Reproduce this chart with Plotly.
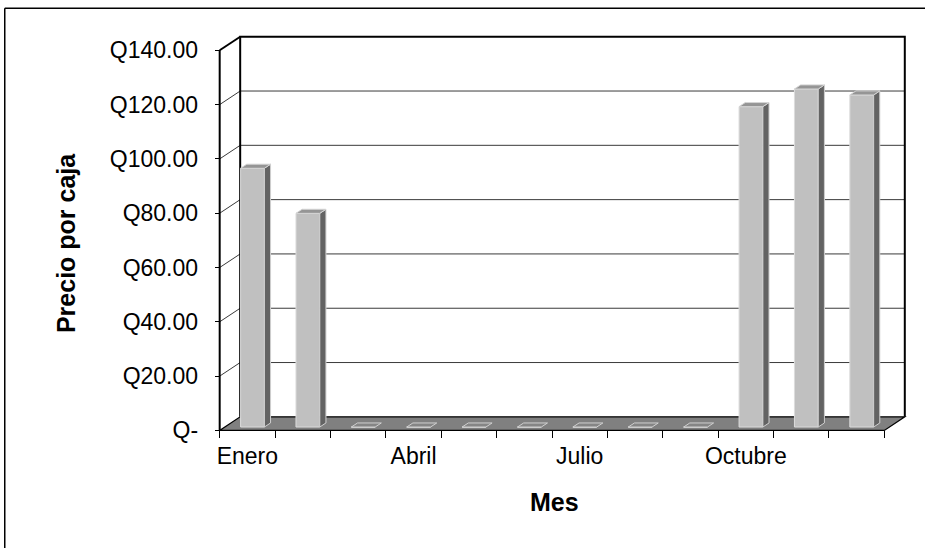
import plotly.graph_objects as go

# Precio promedio por caja, por mes
meses = ["Enero", "Febrero", "Marzo", "Abril", "Mayo", "Junio", "Julio",
         "Agosto", "Septiembre", "Octubre", "Noviembre", "Diciembre"]
precio = [95.3, 78.7, 0, 0, 0, 0, 0, 0, 0, 118.0, 124.5, 122.3]
y_ticks = [0, 20, 40, 60, 80, 100, 120, 140]
y_labels = ["Q-", "Q20.00", "Q40.00", "Q60.00", "Q80.00", "Q100.00", "Q120.00", "Q140.00"]

W, H = 925, 548
FONT = "Liberation Sans, Arial, sans-serif"

# oblique depth of the 3-D box, in data units
DX, DY = 0.37, 5.0
BAR_W = 0.43            # bar width in category units
BAR_D0, BAR_D = 0.25, 0.30   # bar front position and thickness (fraction of depth)

n = len(meses)
vmax = y_ticks[-1]
x_range = [-0.5, n + 0.5]
y_range = [-5, vmax + 6]

# pixel geometry of the plotting area
PX_X, PX_Y = 55.4, 2.714          # pixels per data unit
ORIGIN = (220, 430)               # pixel position of data (0, 0)
l = ORIGIN[0] - (0 - x_range[0]) * PX_X
plot_w = (x_range[1] - x_range[0]) * PX_X
r = W - l - plot_w
bottom = ORIGIN[1] + (0 - y_range[0]) * PX_Y
plot_h = (y_range[1] - y_range[0]) * PX_Y
b = H - bottom
t = bottom - plot_h


def paper_x(px):
    return (px - l) / plot_w


def paper_y(py):
    return (bottom - py) / plot_h


shapes = []


def seg(x0, y0, x1, y1, color="black", width=1.0):
    shapes.append(dict(type="line", xref="x", yref="y",
                       x0=x0, y0=y0, x1=x1, y1=y1, layer="below",
                       line=dict(color=color, width=width)))


# back wall gridlines
for v in y_ticks[1:-1]:
    seg(DX, v + DY, n + DX, v + DY, color="#3a3a3a", width=1)
# side wall diagonals
for v in y_ticks[1:-1]:
    seg(0, v, DX, v + DY, color="#3a3a3a", width=1)
seg(0, vmax, DX, vmax + DY, width=2)

# floor
shapes.append(dict(type="path", xref="x", yref="y", layer="below",
                   path=f"M 0,0 L {n},0 L {n + DX},{DY} L {DX},{DY} Z",
                   fillcolor="#808080", line=dict(color="black", width=1.2)))
# back wall outline and front value axis
shapes.append(dict(type="path", xref="x", yref="y", layer="below",
                   path=f"M {DX},{DY} L {DX},{vmax + DY} L {n + DX},{vmax + DY} L {n + DX},{DY}",
                   line=dict(color="black", width=2)))
seg(0, 0, 0, vmax, width=2)

# chart frame
shapes.append(dict(type="line", xref="paper", yref="paper",
                   x0=paper_x(5), y0=paper_y(8), x1=paper_x(W + 2), y1=paper_y(8),
                   line=dict(color="black", width=1.5)))
shapes.append(dict(type="line", xref="paper", yref="paper",
                   x0=paper_x(5), y0=paper_y(8), x1=paper_x(5), y1=paper_y(H + 2),
                   line=dict(color="black", width=1.5)))

centers = [i + 0.5 for i in range(n)]
base = BAR_D0 * DY
fig = go.Figure()

# front faces of the columns
fig.add_trace(go.Bar(
    x=centers, y=precio, base=base, width=BAR_W,
    offset=-BAR_W / 2 + BAR_D0 * DX,
    marker=dict(color="#c0c0c0", line=dict(color="#dcdcdc", width=1)),
    hoverinfo="skip", showlegend=False,
))

# side and top faces
sx, sy, tx, ty, zx, zy = [], [], [], [], [], []
ox, oy = BAR_D * DX, BAR_D * DY
for c, v in zip(centers, precio):
    x0 = c - BAR_W / 2 + BAR_D0 * DX
    x1 = x0 + BAR_W
    y0 = base
    y1 = base + v
    top_x = [x0, x1, x1 + ox, x0 + ox, x0, None]
    top_y = [y1, y1, y1 + oy, y1 + oy, y1, None]
    if v > 0:
        sx += [x1, x1 + ox, x1 + ox, x1, x1, None]
        sy += [y0, y0 + oy, y1 + oy, y1, y0, None]
        tx += top_x
        ty += top_y
    else:
        zx += top_x
        zy += top_y

fig.add_trace(go.Scatter(x=sx, y=sy, mode="lines", fill="toself",
                         fillcolor="#636363", line=dict(color="#cfcfcf", width=1),
                         hoverinfo="skip", showlegend=False))
fig.add_trace(go.Scatter(x=tx, y=ty, mode="lines", fill="toself",
                         fillcolor="#959595", line=dict(color="#d4d4d4", width=1),
                         hoverinfo="skip", showlegend=False))
fig.add_trace(go.Scatter(x=zx, y=zy, mode="lines", fill="toself",
                         fillcolor="#858585", line=dict(color="#d0d0d0", width=1),
                         hoverinfo="skip", showlegend=False))

fig.update_layout(
    width=W, height=H,
    margin=dict(l=l, r=r, t=t, b=b, pad=0),
    paper_bgcolor="white", plot_bgcolor="white",
    font=dict(family=FONT, color="black"),
    showlegend=False,
    shapes=shapes,
    xaxis=dict(
        range=x_range, anchor="free", position=(0 - y_range[0]) / (y_range[1] - y_range[0]),
        tickmode="array", tickvals=centers[::3], ticktext=meses[::3],
        ticks="", ticklabelstandoff=10,
        minor=dict(tickmode="array", tickvals=list(range(n + 1)), ticks="outside",
                   ticklen=7, tickwidth=1, tickcolor="black", showgrid=False),
        tickfont=dict(size=23, family=FONT, color="black"),
        showgrid=False, zeroline=False, showline=False, fixedrange=True,
        automargin=False,
    ),
    yaxis=dict(
        range=y_range, anchor="free", position=(0 - x_range[0]) / (x_range[1] - x_range[0]),
        tickmode="array", tickvals=y_ticks, ticktext=y_labels,
        ticks="outside", ticklen=5, tickwidth=1, tickcolor="black",
        ticklabelstandoff=12,
        tickfont=dict(size=23, family=FONT, color="black"),
        showgrid=False, zeroline=False, showline=False, fixedrange=True,
        automargin=False,
    ),
    annotations=[
        dict(text="<b>Precio por caja</b>", xref="paper", yref="paper",
             x=paper_x(67), y=paper_y(243), textangle=-90, showarrow=False,
             xanchor="center", yanchor="middle",
             font=dict(size=25, family=FONT, color="black")),
        dict(text="<b>Mes</b>", xref="paper", yref="paper",
             x=paper_x(555), y=paper_y(502), showarrow=False,
             xanchor="center", yanchor="middle",
             font=dict(size=25, family=FONT, color="black")),
    ],
)

fig.write_html("out.html")
